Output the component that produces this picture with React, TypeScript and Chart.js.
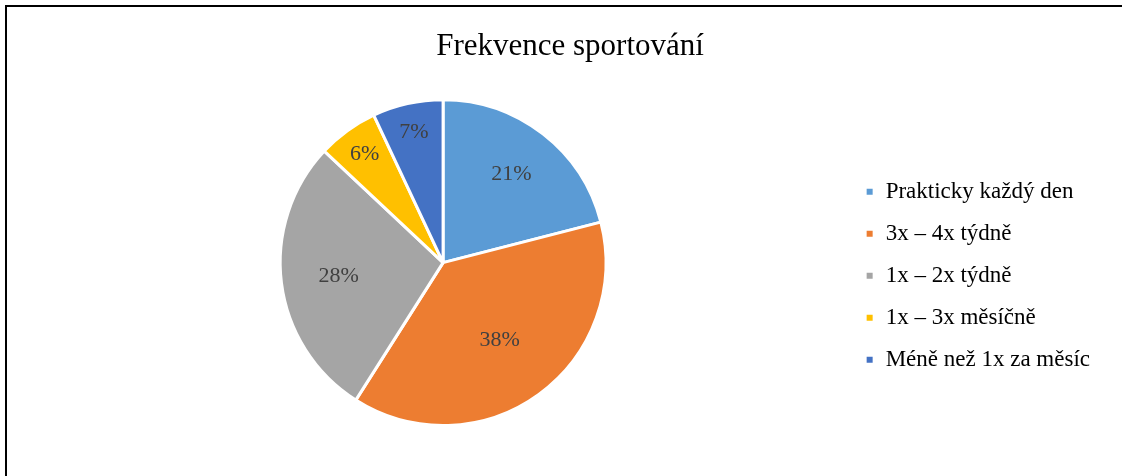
import React, { useEffect, useRef } from "react";
import { Chart, registerables } from "chart.js";

Chart.register(...registerables);

const title = "Frekvence sportování";
const categories = [
  "Prakticky každý den",
  "3x – 4x týdně",
  "1x – 2x týdně",
  "1x – 3x měsíčně",
  "Méně než 1x za měsíc",
];
const values = [21, 38, 28, 6, 7];
const colors = ["#5B9BD5", "#ED7D31", "#A5A5A5", "#FFC000", "#4472C4"];

const FONT = "'Liberation Serif', 'Times New Roman', serif";

const dataLabelPlugin = {
  id: "pieDataLabels",
  afterDatasetsDraw(chart: any) {
    const ctx = chart.ctx;
    const meta = chart.getDatasetMeta(0);
    const ds = chart.data.datasets[0];
    const total = ds.data.reduce((a: number, b: number) => a + b, 0);
    ctx.save();
    ctx.font = `22px ${FONT}`;
    ctx.fillStyle = "#404040";
    ctx.textAlign = "center";
    ctx.textBaseline = "middle";
    meta.data.forEach((arc: any, i: number) => {
      const p = arc.getProps(["x", "y", "startAngle", "endAngle", "outerRadius"], true);
      const mid = (p.startAngle + p.endAngle) / 2;
      const v = ds.data[i];
      const share = v / total;
      const f = share < 0.1 ? 0.82 : 0.8 - 0.55 * share;
      const r = p.outerRadius * f;
      const x = p.x + Math.cos(mid) * r;
      const y = p.y + Math.sin(mid) * r;
      ctx.fillText(`${Math.round(share * 100)}%`, x, y);
    });
    ctx.restore();
  },
};

export default function App() {
  const ref = useRef<HTMLCanvasElement | null>(null);
  useEffect(() => {
    if (!ref.current) return;
    const chart = new Chart(ref.current, {
      type: "pie",
      data: {
        labels: categories,
        datasets: [
          {
            data: values,
            backgroundColor: colors,
            borderColor: "#FFFFFF",
            borderWidth: 3,
          },
        ],
      },
      options: {
        responsive: false,
        animation: false,
        layout: { padding: { left: 33, right: 22, top: 0, bottom: 49 } },
        plugins: {
          title: {
            display: true,
            text: title,
            color: "#000000",
            font: { family: FONT, size: 31, weight: "normal", lineHeight: 1.2 },
            padding: { top: 21, bottom: 33 },
          },
          legend: {
            position: "right",
            align: "center",
            title: {
              display: true,
              text: "",
              font: { size: 12, lineHeight: 1.2 },
              padding: { top: 103, bottom: 0 },
            },
            labels: {
              boxWidth: 9,
              boxHeight: 9,
              padding: 19,
              color: "#000000",
              font: { family: FONT, size: 23 },
            },
          },
          tooltip: { enabled: false },
        },
      },
      plugins: [dataLabelPlugin],
    });
    return () => chart.destroy();
  }, []);
  return (
    <div
      style={{
        position: "absolute",
        left: 5,
        top: 5,
        width: 1140,
        height: 490,
        border: "2px solid #000",
        boxSizing: "border-box",
        background: "#fff",
      }}
    >
      <canvas ref={ref} width={1115} height={469} style={{ display: "block" }} />
    </div>
  );
}
